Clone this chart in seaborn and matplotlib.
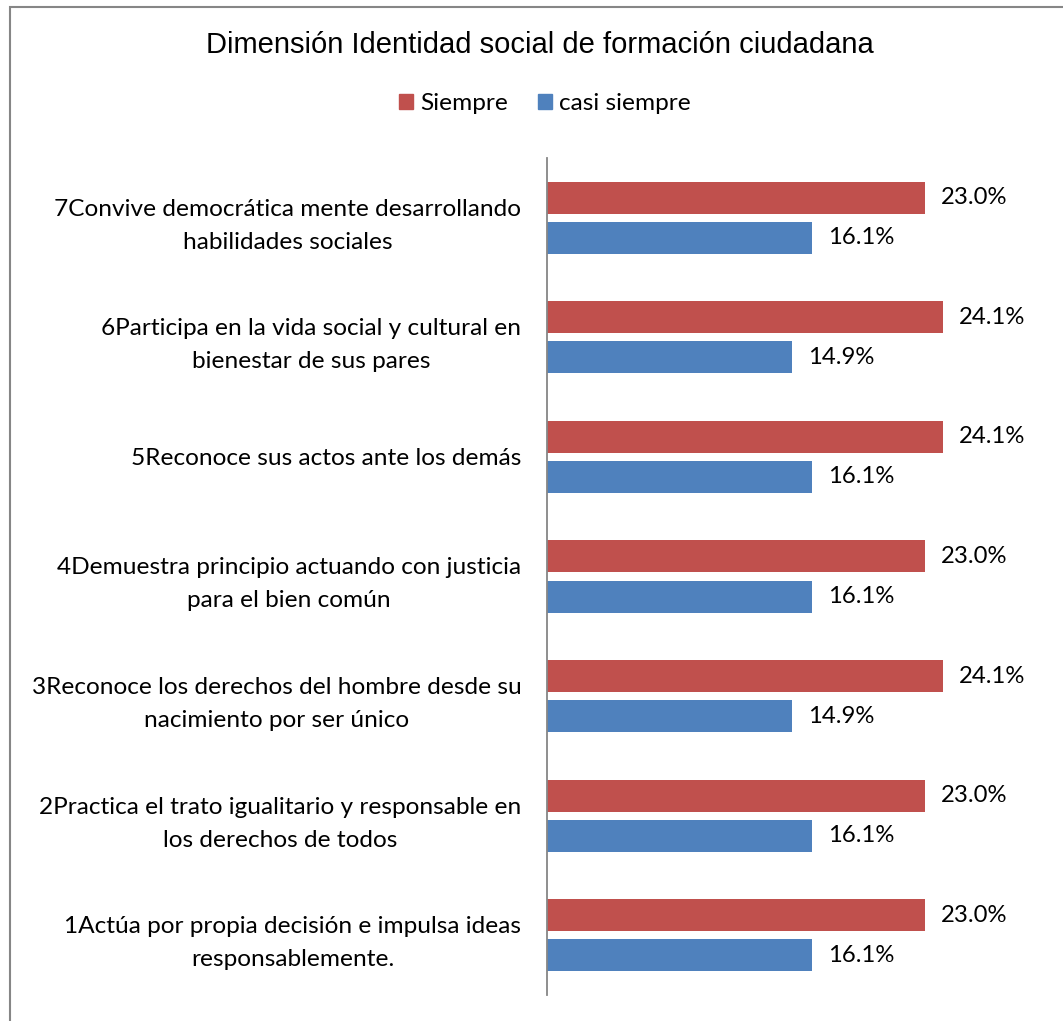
"""Dimension Identidad social - horizontal grouped bars."""

import matplotlib

matplotlib.use("Agg")
import matplotlib.pyplot as plt
import pandas as pd
import seaborn as sns
from matplotlib.patches import Rectangle

categories = [
    "7Convive democrática mente desarrollando\nhabilidades sociales",
    "6Participa en la vida social y cultural en\nbienestar de sus pares",
    "5Reconoce sus actos ante los demás",
    "4Demuestra principio actuando con justicia\npara el bien común",
    "3Reconoce los derechos del hombre desde su\nnacimiento por ser único",
    "2Practica el trato igualitario y responsable en\nlos derechos de todos",
    "1Actúa por propia decisión e impulsa ideas\nresponsablemente.",
]
siempre = [23.0, 24.1, 24.1, 23.0, 24.1, 23.0, 23.0]
casi_siempre = [16.1, 14.9, 16.1, 16.1, 14.9, 16.1, 16.1]
series = ["Siempre", "casi siempre"]
colors = ["#C0504D", "#4F81BD"]

df = pd.DataFrame(
    {
        "item": categories * 2,
        "serie": [series[0]] * len(categories) + [series[1]] * len(categories),
        "valor": siempre + casi_siempre,
    }
)

sns.set_style("white")
plt.rcParams["font.family"] = ["Lato", "DejaVu Sans"]
plt.rcParams["text.color"] = "black"

W, H = 1063, 1021
fig = plt.figure(figsize=(W / 100, H / 100), dpi=100)
ax = fig.add_axes([547 / W, 1 - 995 / H, 493 / W, 837 / H])

sns.barplot(
    data=df, x="valor", y="item", hue="serie", order=categories, hue_order=series,
    palette=colors, width=0.67, gap=0.2, orient="h", ax=ax, legend=False,
    saturation=1, edgecolor="none",
)

for cont in ax.containers:
    ax.bar_label(cont, fmt="%.1f%%", padding=11.5, fontsize=17.2, color="black")

ax.set_xlim(0, 30)
ax.set_ylim(6.5, -0.5)
ax.set_xlabel("")
ax.set_ylabel("")
ax.set_xticks([])
ax.tick_params(axis="y", length=0, pad=18.5, labelsize=17.6, labelcolor="black")
for lbl in ax.get_yticklabels():
    lbl.set_multialignment("center")
    lbl.set_linespacing(1.7)
for side in ["top", "right", "bottom"]:
    ax.spines[side].set_visible(False)
ax.spines["left"].set_color("#868686")
ax.spines["left"].set_linewidth(1.3)

# title and legend
fig.text(540 / W, 1 - 45 / H, "Dimensión Identidad social de formación ciudadana",
         ha="center", va="center", fontsize=21, color="black",
         family=["Liberation Sans", "DejaVu Sans"])
handles = [Rectangle((0, 0), 1, 1, color=c) for c in colors]
fig.legend(handles, series, loc="center", bbox_to_anchor=(545 / W, 1 - 104 / H), ncol=2,
           frameon=False, fontsize=17.6, handlelength=0.57, handleheight=0.57,
           handletextpad=0.3, columnspacing=1.2)

# outer chart border (cropped on right and bottom)
fig.patches.append(Rectangle((10 / W, -0.05), 1.1, 1 - 7 / H + 0.05, transform=fig.transFigure,
                             fill=False, edgecolor="#868686", linewidth=1.5))

fig.savefig("out.png", dpi=100, facecolor="white")
